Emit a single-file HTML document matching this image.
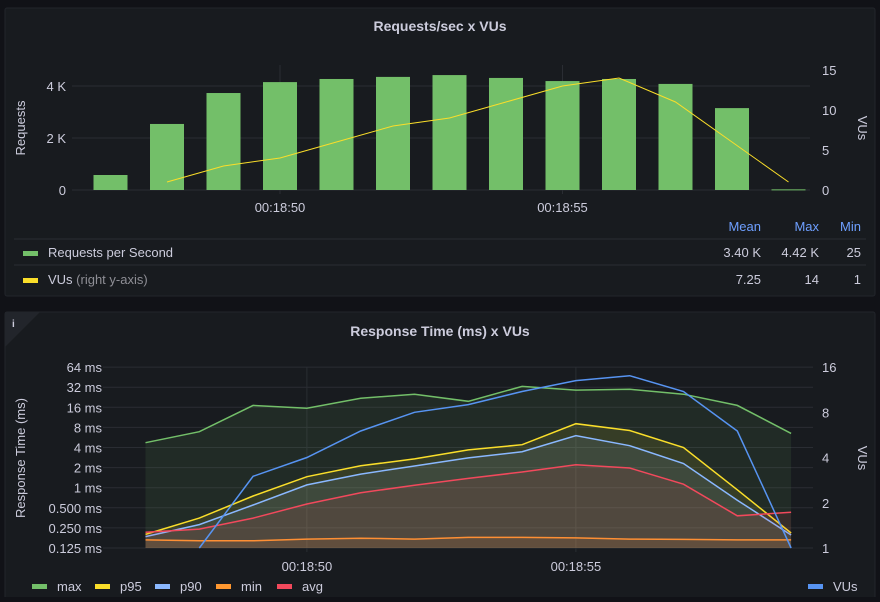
<!DOCTYPE html>
<html><head><meta charset="utf-8"><style>
html,body{margin:0;padding:0;background:#111217;}
body{width:880px;height:597px;overflow:hidden;font-family:"Liberation Sans",sans-serif;}
svg text{font-family:"Liberation Sans",sans-serif;}
</style></head><body>
<svg id="c" width="880" height="597" xmlns="http://www.w3.org/2000/svg">
<rect x="5" y="8" width="870" height="288" rx="2" fill="#181b1f" stroke="#22252b"/>
<rect x="5" y="312" width="870" height="290" rx="2" fill="#181b1f" stroke="#22252b"/>
<path d="M5,312 L40,312 L5,347 Z" fill="#22252b"/>
<text x="12" y="327" fill="#ccccdc" font-size="10" font-weight="bold">i</text>
<text x="440" y="31" fill="#ccccdc" font-size="14" font-weight="bold" text-anchor="middle">Requests/sec x VUs</text>
<text x="440" y="336" fill="#ccccdc" font-size="14" font-weight="bold" text-anchor="middle">Response Time (ms) x VUs</text>
<g id="topg"></g><g id="botg"></g>
</svg>
<script>
const rpsCats=['00:18:47','00:18:48','00:18:49','00:18:50','00:18:51','00:18:52','00:18:53','00:18:54','00:18:55','00:18:56','00:18:57','00:18:58','00:18:59'];
const rpsValues=[577,2540,3730,4150,4270,4350,4420,4310,4190,4270,4080,3150,25];
const vusValues=[null,1,3,4,6,8,9,11,13,14,11,6,1];
const rpsTicks=[0,2000,4000];
const rpsTickLabels=['0','2 K','4 K'];
const vusTicks=[0,5,10,15];
const maxValues=[4.72,6.9,17.1,15.5,21.8,25.1,19.7,32.9,29,29.8,25.1,17.1,6.5];
const p95Values=[0.2,0.35,0.75,1.46,2.13,2.7,3.68,4.4,9.1,7.2,4.0,0.93,0.21];
const p90Values=[0.185,0.28,0.55,1.1,1.6,2.11,2.79,3.46,6.0,4.25,2.3,0.65,0.196];
const minValues=[0.165,0.16,0.16,0.17,0.175,0.17,0.18,0.18,0.177,0.17,0.168,0.165,0.165];
const avgValues=[0.215,0.24,0.35,0.57,0.84,1.09,1.38,1.72,2.2,1.97,1.13,0.38,0.43];
const msTicks=[0.125,0.25,0.5,1,2,4,8,16,32,64];
const msTickLabels=['0.125 ms','0.250 ms','0.500 ms','1 ms','2 ms','4 ms','8 ms','16 ms','32 ms','64 ms'];
const vuTicksLog=[1,2,4,8,16];
const NS='http://www.w3.org/2000/svg';
function mk(p,t,a){const e=document.createElementNS(NS,t);for(const k in a)e.setAttribute(k,a[k]);p.appendChild(e);return e;}
const topG=document.getElementById('topg'), botG=document.getElementById('botg');
const tx=i=>110.5+i*56.5, ty=v=>190-v*0.026, tyr=v=>190-v*8;
rpsTicks.forEach((v,i)=>{
 const l=mk(topG,'line',{x1:72,x2:810,y1:ty(v),y2:ty(v),stroke:'#2a2d33'});
 
 
 const t=mk(topG,'text',{x:66,y:ty(v)+5,fill:'#ccccdc','font-size':13,'text-anchor':'end'});t.textContent=rpsTickLabels[i];
 
 
});
[3,8].forEach(i=>{
 const l=mk(topG,'line',{x1:tx(i),x2:tx(i),y1:65,y2:194,stroke:'#2a2d33'});
 
 
 const t=mk(topG,'text',{x:tx(i),y:212,fill:'#ccccdc','font-size':13,'text-anchor':'middle'});t.textContent=rpsCats[i];
 
 
});
vusTicks.forEach(v=>{
 const t=mk(topG,'text',{x:822,y:tyr(v)+5,fill:'#ccccdc','font-size':13});t.textContent=v;
 
 
});
rpsValues.forEach((v,i)=>{
 const r=mk(topG,'rect',{x:tx(i)-17,y:ty(v),width:34,height:Math.max(1,190-ty(v)),fill:'#73bf69'});
 
 
});
let d='';vusValues.forEach((v,i)=>{if(v==null)return;d+=(d?'L':'M')+tx(i)+','+tyr(v);});
const vl=mk(topG,'path',{d:d,fill:'none',stroke:'#fade2a','stroke-width':1});


let t1=mk(topG,'text',{x:0,y:0,fill:'#ccccdc','font-size':13,transform:'translate(25,128) rotate(-90)','text-anchor':'middle'});t1.textContent='Requests';


let t2=mk(topG,'text',{x:0,y:0,fill:'#ccccdc','font-size':13,transform:'translate(858,128) rotate(90)','text-anchor':'middle'});t2.textContent='VUs';


[['Mean',761],['Max',819],['Min',861]].forEach(h=>{const t=mk(topG,'text',{x:h[1],y:231,fill:'#6e9fff','font-size':13,'text-anchor':'end'});t.textContent=h[0];
 
 });
[239,265].forEach(y=>{const l=mk(topG,'line',{x1:14,x2:866,y1:y,y2:y,stroke:'#2a2d33'});
 
 });
[[257,'#73bf69','Requests per Second','',['3.40 K','4.42 K','25']],[284,'#fade2a','VUs',' (right y-axis)',['7.25','14','1']]].forEach(r=>{
 const s=mk(topG,'rect',{x:23,y:r[0]-6,width:15,height:5,fill:r[1]});
 
 
 const t=mk(topG,'text',{x:48,y:r[0],fill:'#ccccdc','font-size':13});t.textContent=r[2];
 
 
 if(r[3]){const ts=mk(t,'tspan',{fill:'#8e8e95'});ts.textContent=r[3];}
 [761,819,861].forEach((x,j)=>{const v=mk(topG,'text',{x:x,y:r[0],fill:'#ccccdc','font-size':13,'text-anchor':'end'});v.textContent=r[4][j];
  
  });
});
const bx=i=>145.5+i*53.8, by=v=>548-Math.log2(v/0.125)*20.1, byr=v=>548-Math.log2(v)*45.25;
msTicks.forEach((v,i)=>{
 const l=mk(botG,'line',{x1:103,x2:813,y1:by(v),y2:by(v),stroke:'#2a2d33'});
 
 
 const t=mk(botG,'text',{x:102,y:by(v)+5,fill:'#ccccdc','font-size':13,'text-anchor':'end'});t.textContent=msTickLabels[i];
 
 
});
[3,8].forEach(i=>{
 const l=mk(botG,'line',{x1:bx(i),x2:bx(i),y1:367,y2:552,stroke:'#2a2d33'});
 
 
 const t=mk(botG,'text',{x:bx(i),y:571,fill:'#ccccdc','font-size':13,'text-anchor':'middle'});t.textContent=rpsCats[i];
 
 
});
vuTicksLog.forEach(v=>{
 const t=mk(botG,'text',{x:822,y:byr(v)+5,fill:'#ccccdc','font-size':13});t.textContent=v;
 
 
});
const series=[['max',maxValues,'#73bf69'],['p95',p95Values,'#fade2a'],['p90',p90Values,'#8ab8ff'],['min',minValues,'#ff9830'],['avg',avgValues,'#f2495c']];
series.forEach(s=>{
 let p='';s[1].forEach((v,i)=>{p+=(i?'L':'M')+bx(i).toFixed(1)+','+by(v).toFixed(1);});
 const a=mk(botG,'path',{d:p+'L'+bx(12)+',548L'+bx(0)+',548Z',fill:s[2],'fill-opacity':0.1});
 
 
 const l=mk(botG,'path',{d:p,fill:'none',stroke:s[2],'stroke-width':1.5});
 
 
});
let d2='';vusValues.forEach((v,i)=>{if(v==null)return;d2+=(d2?'L':'M')+bx(i).toFixed(1)+','+byr(v).toFixed(1);});
const vb=mk(botG,'path',{d:d2,fill:'none',stroke:'#5794f2','stroke-width':1.5});


let t3=mk(botG,'text',{x:0,y:0,fill:'#ccccdc','font-size':13,transform:'translate(25,458) rotate(-90)','text-anchor':'middle'});t3.textContent='Response Time (ms)';


let t4=mk(botG,'text',{x:0,y:0,fill:'#ccccdc','font-size':13,transform:'translate(858,458) rotate(90)','text-anchor':'middle'});t4.textContent='VUs';


[[32,'#73bf69','max'],[95,'#fade2a','p95'],[155,'#8ab8ff','p90'],[216,'#ff9830','min'],[277,'#f2495c','avg'],[808,'#5794f2','VUs']].forEach(e=>{
 const s=mk(botG,'rect',{x:e[0],y:584,width:15,height:5,fill:e[1]});
 
 
 const t=mk(botG,'text',{x:e[0]+25,y:591,fill:'#ccccdc','font-size':13});t.textContent=e[2];
 
 
});
</script>
</body></html>
